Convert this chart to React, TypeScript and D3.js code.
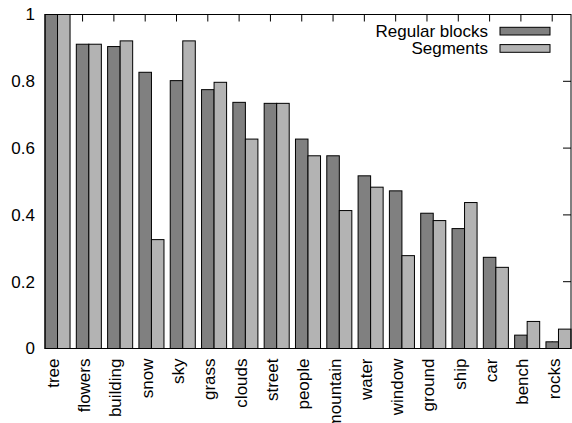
import React from "react";
import * as d3 from "d3";

const categories = ["tree","flowers","building","snow","sky","grass","clouds","street","people","mountain","water","window","ground","ship","car","bench","rocks"];
const regularBlocks = [1.0,0.911,0.904,0.827,0.802,0.775,0.737,0.734,0.627,0.577,0.517,0.472,0.405,0.359,0.273,0.040,0.020];
const segments = [1.0,0.911,0.921,0.326,0.921,0.797,0.627,0.734,0.577,0.413,0.483,0.278,0.383,0.437,0.243,0.081,0.058];
const seriesNames = ["Regular blocks","Segments"];
const seriesColors = ["#808080","#b3b3b3"];
const yTicks = [0,0.2,0.4,0.6,0.8,1];

const W = 572, H = 423;
const L = 45, R = 571, T = 14.5, B = 348.5;

export default function App() {
  const x = d3.scaleBand<string>().domain(categories).range([L, R]).paddingInner(0.2).paddingOuter(0);
  const xs = d3.scaleBand<number>().domain([0,1]).range([0, x.bandwidth()]);
  const y = d3.scaleLinear().domain([0,1]).range([B, T]);
  const series = [regularBlocks, segments];
  const font = "'Liberation Sans', Arial, Helvetica, sans-serif";
  const fs = 17;
  const tickX = (c: string) => (x(c) as number) + xs.bandwidth() / 2;
  return (
    <svg width={W} height={H} style={{position:"absolute", left:0, top:0}} fontFamily={font}>
      <rect x={0} y={0} width={W} height={H} fill="#fff" />
      {yTicks.map(t => (
        <g key={"yt"+t}>
          <line x1={L} x2={L+8} y1={y(t)} y2={y(t)} stroke="#000" strokeWidth={1} />
          <line x1={R} x2={R-8} y1={y(t)} y2={y(t)} stroke="#000" strokeWidth={1} />
        </g>
      ))}
      {categories.map(c => (
        <g key={"xt"+c}>
          <line x1={tickX(c)} x2={tickX(c)} y1={T} y2={T+7} stroke="#000" strokeWidth={1} />
          <line x1={tickX(c)} x2={tickX(c)} y1={B} y2={B-7} stroke="#000" strokeWidth={1} />
        </g>
      ))}
      {categories.map((c, i) => (
        <g key={"b"+c}>
          {series.map((s, k) => (
            <rect key={k}
              x={(x(c) as number) + (xs(k) as number)}
              y={y(s[i])}
              width={xs.bandwidth()}
              height={B - y(s[i])}
              fill={seriesColors[k]} stroke="#000" strokeWidth={1} />
          ))}
        </g>
      ))}
      <rect x={L} y={T} width={R-L} height={B-T} fill="none" stroke="#000" strokeWidth={1} />
      {yTicks.map(t => (
        <text key={"yl"+t} x={35} y={y(t)} dy="0.35em" textAnchor="end" fontSize={fs} fill="#000">{t}</text>
      ))}
      {categories.map(c => (
        <text key={"xl"+c} transform={`translate(${tickX(c)+1.5},${B+10}) rotate(-90)`} dy="0.35em" textAnchor="end" fontSize={fs} fill="#000">{c}</text>
      ))}
      {seriesNames.map((n, k) => (
        <g key={"lg"+n}>
          <text x={488} y={31 + k*17.3} dy="0.35em" textAnchor="end" fontSize={fs} fill="#000">{n}</text>
          <rect x={500} y={27.3 + k*17.3} width={50} height={7.7} fill={seriesColors[k]} stroke="#000" strokeWidth={1} />
        </g>
      ))}
    </svg>
  );
}
